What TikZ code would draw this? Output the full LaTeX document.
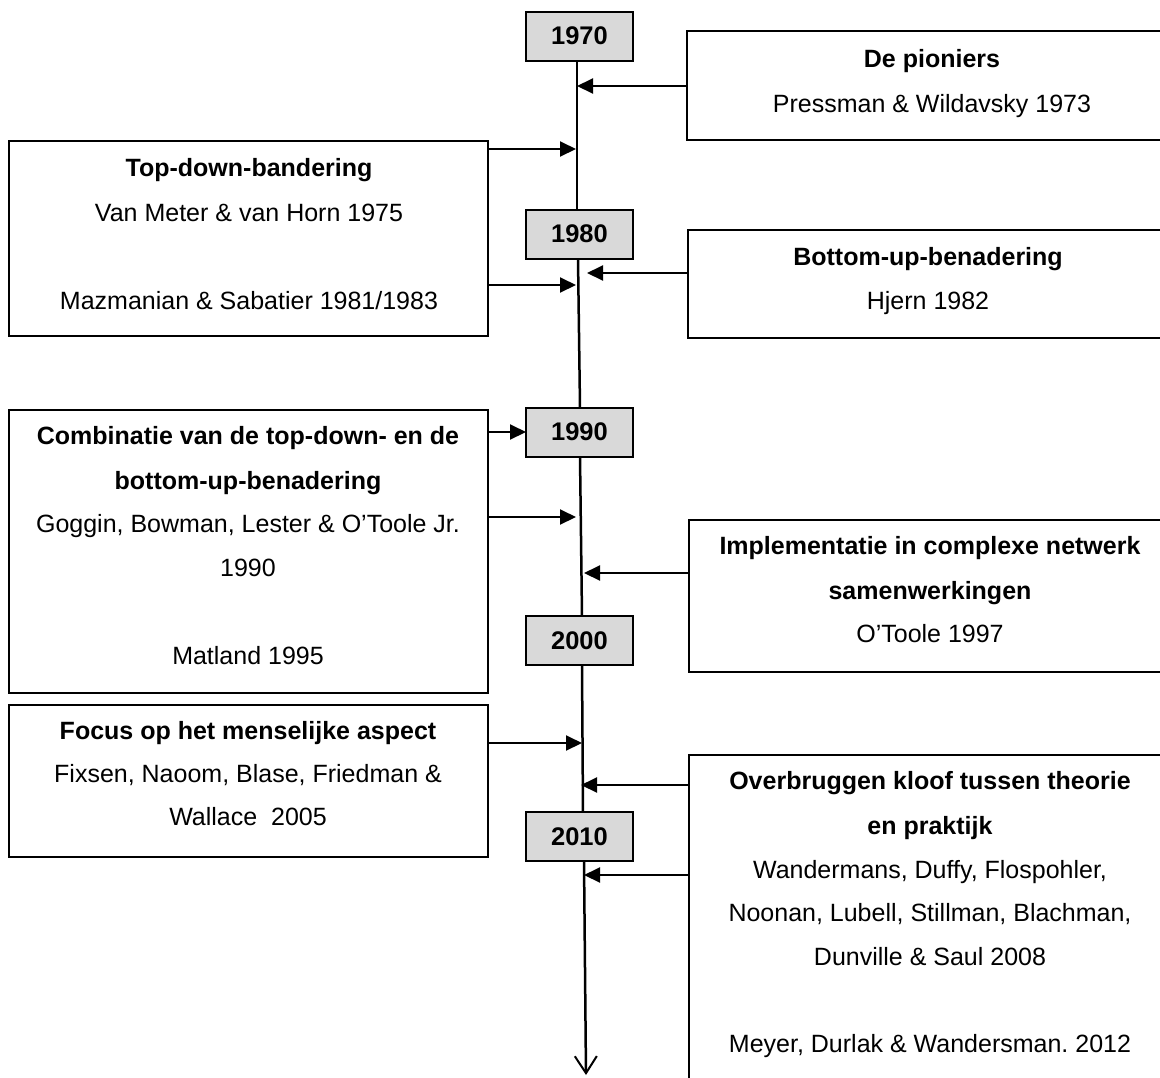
\documentclass[tikz,border=0pt]{standalone}
\usepackage{fontspec}
\setmainfont{Liberation Sans}
\usetikzlibrary{arrows.meta}
\definecolor{yeargray}{HTML}{D9D9D9}
\tikzset{
  box/.style={draw=black, line width=2pt, inner sep=0pt, outer sep=0pt},
  yearbox/.style={draw=black, line width=2pt, fill=yeargray, minimum width=107pt, minimum height=49pt, inner sep=0pt, outer sep=0pt, font=\fontsize{25.5}{30}\selectfont\bfseries},
  ln/.style={font=\fontsize{25}{30}\selectfont, text height=18pt, text depth=0pt, inner sep=0pt},
  hd/.style={font=\fontsize{25}{30}\selectfont\bfseries, text height=18pt, text depth=0pt, inner sep=0pt},
  arr/.style={line width=2pt, -{Triangle[length=16pt,width=15pt]}},
  tl/.style={line width=2.5pt},
}
\frenchspacing
\begin{document}
\begin{tikzpicture}[x=1pt,y=-1pt]
\path[use as bounding box] (0,0) rectangle (1160,1077);

% year boxes
\node[yearbox] (y1970) at (579.5,36) {1970\hspace{10pt}};
\node[yearbox] (y1980) at (579.5,234) {1980\hspace{10pt}};
\node[yearbox] (y1990) at (579.5,432) {1990\hspace{10pt}};
\node[yearbox] (y2000) at (579.5,640.5) {2000\hspace{10pt}};
\node[yearbox] (y2010) at (579.5,836.5) {2010\hspace{10pt}};

% content boxes
\node[box, minimum width=503pt, minimum height=109pt] (pion) at (938.5,85.5) {};
\node[box, minimum width=479pt, minimum height=195pt] (topdown) at (248.5,238.5) {};
\node[box, minimum width=502pt, minimum height=108pt] (bottomup) at (939,284) {};
\node[box, minimum width=479pt, minimum height=283pt] (comb) at (248.5,551.5) {};
\node[box, minimum width=501pt, minimum height=152pt] (impl) at (939.5,596) {};
\node[box, minimum width=479pt, minimum height=152pt] (focus) at (248.5,781) {};
\node[box, minimum width=501pt, minimum height=355pt] (over) at (939.5,932.5) {};

% texts
\node[hd] (pion1) at (932,58) {De pioniers};
\node[ln] (pion2) at (932,103) {Pressman \& Wildavsky 1973};

\node[hd] (td1) at (249,167) {Top-down-bandering};
\node[ln] (td2) at (249,212) {Van Meter \& van Horn 1975};
\node[ln] (td3) at (249,300) {Mazmanian \& Sabatier 1981/1983};

\node[hd] (bu1) at (928,256) {Bottom-up-benadering};
\node[ln] (bu2) at (928,300) {Hjern 1982};

\node[hd] (cb1) at (248,435) {Combinatie van de top-down- en de};
\node[hd] (cb2) at (248,480) {bottom-up-benadering};
\node[ln] (cb3) at (248,523) {Goggin, Bowman, Lester \& O’Toole Jr.};
\node[ln] (cb4) at (248,567) {1990};
\node[ln] (cb5) at (248,655) {Matland 1995};

\node[hd] (im1) at (930,545) {Implementatie in complexe netwerk};
\node[hd] (im2) at (930,590) {samenwerkingen};
\node[ln] (im3) at (930,633) {O’Toole 1997};

\node[hd] (fo1) at (248,730) {Focus op het menselijke aspect};
\node[ln] (fo2) at (248,773) {Fixsen, Naoom, Blase, Friedman \&};
\node[ln] (fo3) at (248,816) {Wallace\ \ 2005};

\node[hd] (ov1) at (930,780) {Overbruggen kloof tussen theorie};
\node[hd] (ov2) at (930,825) {en praktijk};
\node[ln] (ov3) at (930,869) {Wandermans, Duffy, Flospohler,};
\node[ln] (ov4) at (930,912) {Noonan, Lubell, Stillman, Blachman,};
\node[ln] (ov5) at (930,956) {Dunville \& Saul 2008};
\node[ln] (ov6) at (930,1043) {Meyer, Durlak \& Wandersman. 2012};

% timeline
\coordinate (tend) at (586,1075);
\draw[tl] ([xshift=-2.5pt]y1970.south) -- ([xshift=-2.5pt]y1980.north);
\draw[tl] ([xshift=-1.5pt]y1980.south) -- ([xshift=0.5pt]y1990.north);
\draw[tl] ([xshift=0.5pt]y1990.south) -- ([xshift=2.5pt]y2000.north);
\draw[tl] ([xshift=2.5pt]y2000.south) -- ([xshift=3.5pt]y2010.north);
\draw[tl, -{Straight Barb[length=17pt,width=22pt,line width=2pt]}] ([xshift=4.5pt]y2010.south) -- (tend);

% arrow tips
\coordinate (a1) at (577,86);
\coordinate (a2) at (576,149);
\coordinate (a3) at (576,285);
\coordinate (a4) at (587,273);
\coordinate (a6) at (576,517);
\coordinate (a7) at (584,573);
\coordinate (a8) at (582,743);
\coordinate (a9) at (581,785);
\coordinate (a10) at (584,875);

\draw[arr] (a1 -| pion.west) -- (a1);
\draw[arr] (a2 -| topdown.east) -- (a2);
\draw[arr] (a3 -| topdown.east) -- (a3);
\draw[arr] (a4 -| bottomup.west) -- (a4);
\draw[arr] (y1990.west -| comb.east) -- (y1990.west);
\draw[arr] (a6 -| comb.east) -- (a6);
\draw[arr] (a7 -| impl.west) -- (a7);
\draw[arr] (a8 -| focus.east) -- (a8);
\draw[arr] (a9 -| over.west) -- (a9);
\draw[arr] (a10 -| over.west) -- (a10);
\end{tikzpicture}
\end{document}
